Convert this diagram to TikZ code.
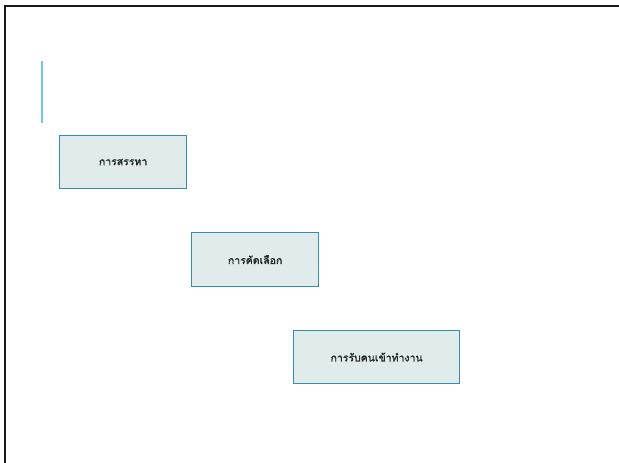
\documentclass[tikz,border=0pt]{standalone}
\usepackage{fontspec}
\newfontfamily\thaifont[Script=Thai,FakeBold=1.5]{Loma}
\definecolor{boxfill}{RGB}{224,236,236}
\definecolor{boxline}{RGB}{52,140,175}
\definecolor{barblue}{RGB}{110,200,230}
\tikzset{
  stagebox/.style={draw=boxline,fill=boxfill,line width=1.2pt,
    font=\thaifont\fontsize{10.5}{12}\selectfont,text=black!85,
    anchor=north west,inner sep=0pt}
}
\begin{document}
\begin{tikzpicture}[x=1pt,y=-1pt]
  \useasboundingbox (0,0) rectangle (619,463);

  % Slide frame
  \draw[line width=2.4pt,black!90] (5,463) -- (5,6) -- (619,6);

  % Title bar
  \draw[line width=2pt,barblue] (41.7,61) -- (41.7,122.7);

  % Stages
  \node[stagebox,minimum width=127pt,minimum height=53pt] (recruit) at (59,135) {การสรรหา};
  \node[stagebox,minimum width=127pt,minimum height=54pt] (select) at (191,232) {การคัดเลือก};
  \node[stagebox,minimum width=166pt,minimum height=53pt] (hire) at (293,330) {การรับคนเข้าทำงาน};
\end{tikzpicture}
\end{document}
